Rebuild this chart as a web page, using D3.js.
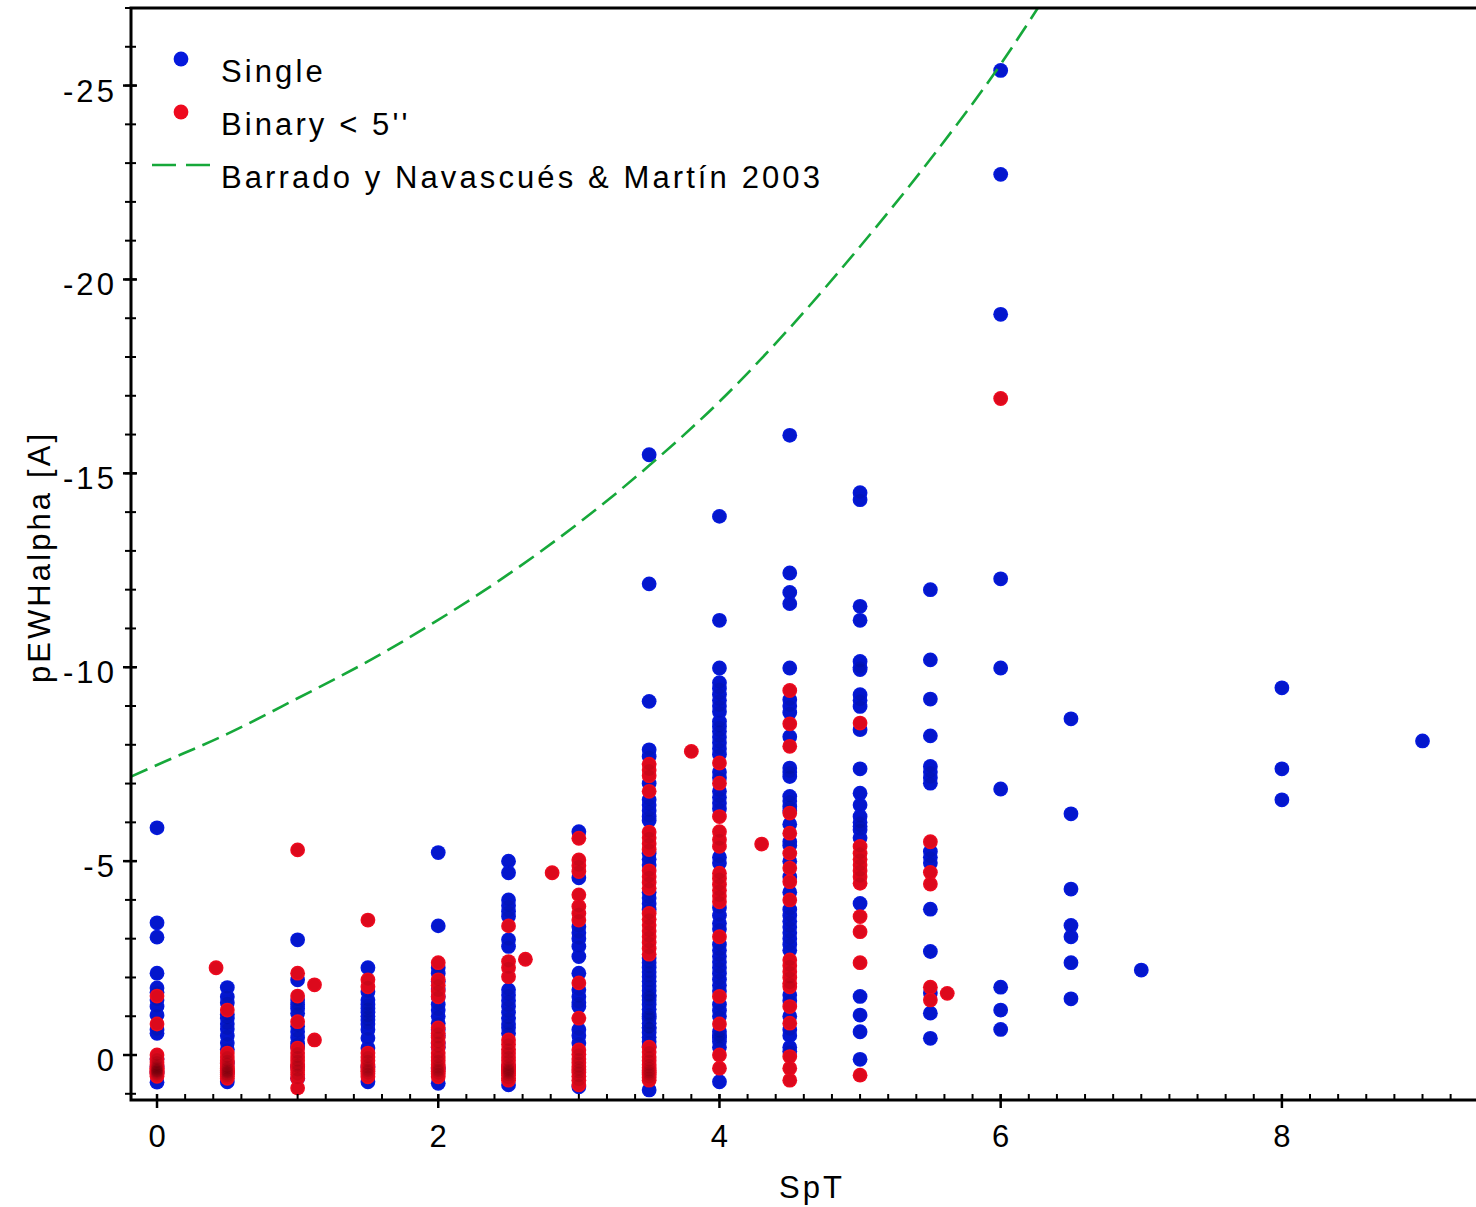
<!DOCTYPE html>
<html>
<head>
<meta charset="utf-8">
<script src="https://cdn.jsdelivr.net/npm/d3@7"></script>
<style>
  html, body { margin: 0; padding: 0; background: #fff; }
  svg text { font-family: "Liberation Sans", Arial, Helvetica, sans-serif; fill: #000; }
</style>
</head>
<body>
<svg id="chart" width="1476" height="1207"></svg>
<script>
// Hα pseudo-equivalent width versus spectral subtype (M0 = 0 ... M9 = 9)

// Single stars: [spectral type, pEW(Hα) values]
const singleStars = [
  [0,   [-5.86, -3.41, -3.04, -2.11, -1.73, -1.62, -1.42, -1.25, -1.03, -0.65, -0.56, 0.1, 0.3, 0.45, 0.7]],
  [0.5, [-1.74, -1.5, -1.35, -1.05, -0.95, -0.8, -0.67, -0.5, -0.31, -0.15, 0.2, 0.45, 0.69]],
  [1,   [-2.97, -1.94, -1.42, -1.3, -1.2, -1.08, -0.74, -0.6, -0.45, -0.3, -0.21, 0.3, 0.6]],
  [1.5, [-2.25, -1.63, -1.42, -1.3, -1.2, -1.1, -1.0, -0.9, -0.8, -0.65, -0.44, -0.18, 0.3, 0.69]],
  [2,   [-5.22, -3.33, -2.25, -2.1, -1.9, -1.7, -1.5, -1.3, -1.16, -1.0, -0.82, -0.65, -0.5, -0.3, -0.2, 0.35, 0.73]],
  [2.5, [-5.0, -4.7, -4.0, -3.85, -3.7, -3.57, -2.97, -2.8, -1.68, -1.55, -1.4, -1.25, -1.1, -0.95, -0.8, -0.7, -0.56, 0.3, 0.77]],
  [3,   [-5.76, -4.57, -3.31, -3.15, -3.0, -2.8, -2.54, -2.11, -1.68, -1.5, -1.35, -1.25, -0.65, -0.5, -0.31, 0.82]],
  [3.5, [-15.48, -12.15, -9.12, -7.87, -7.7, -7.0, -6.58, -6.45, -6.3, -6.15, -6.05, -5.2, -5.05, -4.9, -4.2, -4.05, -3.9, -3.75,
         -2.5, -2.38, -2.26, -2.14, -2.02, -1.9, -1.78, -1.66, -1.54, -1.5, -1.42, -1.3, -1.18, -1.06, -1.0, -0.94, -0.82,
         -0.7, -0.7, -0.58, -0.46, -0.34, -0.22, 0.9]],
  [4,   [-13.89, -11.21, -9.98, -9.6, -9.45, -9.3, -9.15, -9.0, -8.85, -8.6, -8.47, -8.35, -8.2, -8.05, -7.9, -7.75, -7.3, -7.15,
         -6.8, -6.65, -6.5, -6.35, -5.1, -4.95, -3.8, -3.6, -3.4, -3.25, -2.85, -2.7, -2.55, -2.4, -2.25, -2.1, -1.95, -1.8,
         -1.65, -1.3, -1.15, -1.0, -0.6, -0.5, -0.45, -0.35, -0.2, 0.69]],
  [4.5, [-15.98, -12.43, -11.93, -11.64, -9.98, -9.16, -9.0, -8.83, -8.21, -7.4, -7.3, -7.18, -6.67, -6.55, -6.41, -6.3, -5.95,
         -5.5, -5.4, -5.0, -4.6, -4.2, -3.75, -3.6, -3.45, -3.3, -3.15, -3.0, -2.85, -2.7, -1.55, -1.4, -1.0, -0.65, -0.5, -0.2, -0.1]],
  [5,   [-14.5, -14.32, -11.57, -11.21, -10.15, -10.0, -9.94, -9.29, -9.15, -8.99, -8.39, -7.38, -6.75, -6.45, -6.15, -6.0,
         -5.9, -5.81, -5.6, -3.91, -1.51, -1.03, -0.6, 0.11]],
  [5.5, [-12.0, -10.19, -9.18, -8.23, -7.44, -7.3, -7.15, -7.01, -5.25, -5.1, -4.95, -3.76, -2.67, -1.6, -1.08, -0.43]],
  [6,   [-25.39, -22.71, -19.1, -12.28, -9.98, -6.86, -1.75, -1.16, -0.66]],
  [6.5, [-8.67, -6.22, -4.28, -3.34, -3.05, -2.38, -1.45]],
  [7,   [-2.19]],
  [8,   [-9.47, -7.38, -6.58]],
  [9,   [-8.1]]
];

// Binaries with separation below 5 arcsec: [spectral type, pEW(Hα) values]
const binaryStars = [
  [0,    [-1.52, -0.8, 0.0, 0.1, 0.18, 0.25, 0.3, 0.34, 0.37, 0.4, 0.42, 0.44, 0.47, 0.5, 0.55]],
  [0.42, [-2.25]],
  [0.5,  [-1.16, -0.05, 0.05, 0.15, 0.22, 0.3, 0.35, 0.4, 0.43, 0.46, 0.5, 0.55, 0.6]],
  [1,    [-5.29, -2.11, -1.52, -0.86, -0.18, -0.05, 0.05, 0.15, 0.25, 0.3, 0.4, 0.5, 0.6, 0.85]],
  [1.12, [-1.81, -0.39]],
  [1.5,  [-3.48, -1.94, -1.76, -0.05, 0.05, 0.15, 0.25, 0.32, 0.38, 0.42, 0.48, 0.56]],
  [2,    [-2.38, -1.94, -1.8, -1.65, -1.5, -0.7, -0.56, -0.45, -0.32, -0.21, -0.05, 0.05, 0.15, 0.25, 0.32, 0.38, 0.42, 0.48, 0.56]],
  [2.5,  [-3.33, -2.41, -2.25, -2.02, -0.39, -0.28, -0.15, -0.05, 0.05, 0.15, 0.25, 0.32, 0.37, 0.4, 0.43, 0.47, 0.52, 0.6, 0.65]],
  [2.62, [-2.47]],
  [2.81, [-4.7]],
  [3,    [-5.59, -5.03, -4.88, -4.73, -4.13, -3.83, -3.65, -3.48, -1.86, -0.95, -0.13, -0.02, 0.1, 0.2, 0.3, 0.38, 0.45, 0.55, 0.65, 0.77]],
  [3.5,  [-7.5, -7.35, -7.2, -6.8, -5.75, -5.6, -5.45, -5.3, -4.75, -4.6, -4.45, -4.3, -3.65, -3.5, -3.35, -3.2, -3.05, -2.9,
          -2.75, -2.6, -0.2, -0.08, 0.05, 0.15, 0.25, 0.33, 0.4, 0.45, 0.5, 0.58, 0.65]],
  [3.8,  [-7.83]],
  [4,    [-7.53, -7.01, -6.15, -5.76, -5.55, -5.38, -4.69, -4.55, -4.4, -4.25, -4.1, -3.95, -3.05, -1.51, -0.8, 0.0, 0.34]],
  [4.3,  [-5.44]],
  [4.5,  [-9.4, -8.54, -7.96, -6.24, -5.72, -5.2, -4.82, -4.47, -4.0, -2.45, -2.3, -2.15, -2.0, -1.85, -1.76, -1.25, -0.82, 0.04, 0.34, 0.65]],
  [5,    [-8.56, -5.38, -5.2, -5.05, -4.9, -4.75, -4.6, -4.43, -3.57, -3.18, -2.38, 0.52]],
  [5.5,  [-5.5, -4.71, -4.41, -1.75, -1.42]],
  [5.62, [-1.59]],
  [6,    [-16.93]]
];

// Saturation criterion of Barrado y Navascués & Martín (2003)
const criterionSpT = [-0.185, 0, 0.5, 1, 1.5, 2, 2.5, 3, 3.5, 4, 4.5, 5, 5.5, 6, 6.3];
const criterionEW  = [-7.18, -7.48, -8.28, -9.2, -10.15, -11.22, -12.4, -13.72, -15.2, -16.85, -18.75, -20.85, -23.1, -25.55, -27.2];

// Axis ticks
const xTickValues = [0, 2, 4, 6, 8];
const xTickLabels = ["0", "2", "4", "6", "8"];
const yTickValues = [0, -5, -10, -15, -20, -25];
const yTickLabels = ["0", "-5", "-10", "-15", "-20", "-25"];

const legendLabels = ["Single", "Binary < 5''", "Barrado y Navascués & Martín 2003"];
const seriesColors = { single: "#0519dd", binary: "#ee0a1f", criterion: "#16a83a" };

(function drawChart() {
  const svg = d3.select("#chart");
  const plotLeft = 131, plotRight = 1490, plotTop = 8, plotBottom = 1100;
  const fontSize = 31, tracking = 3.1, markerR = 7.4;

  const x = d3.scaleLinear().domain([-0.185, 9.48]).range([plotLeft, plotRight]);
  const y = d3.scaleLinear().domain([1.16, -27.0]).range([plotBottom, plotTop]);

  svg.append("defs").append("clipPath").attr("id", "plotClip")
    .append("rect").attr("x", plotLeft).attr("y", plotTop)
    .attr("width", plotRight - plotLeft).attr("height", plotBottom - plotTop);

  const plot = svg.append("g").attr("clip-path", "url(#plotClip)");

  const flatten = list => list.flatMap(([spt, ews]) => ews.map(ew => ({ spt, ew })));
  const singles = flatten(singleStars);
  const binaries = flatten(binaryStars);

  // scatter: solid markers, with a faint dark wash that builds up where markers pile up
  function drawSeries(data, color) {
    const g = plot.append("g");
    g.selectAll("circle.fill").data(data).join("circle")
      .attr("class", "fill")
      .attr("cx", d => x(d.spt)).attr("cy", d => y(d.ew))
      .attr("r", markerR).attr("fill", color);
    g.selectAll("circle.shade").data(data).join("circle")
      .attr("class", "shade")
      .attr("cx", d => x(d.spt)).attr("cy", d => y(d.ew))
      .attr("r", 6).attr("fill", "#000").attr("fill-opacity", 0.075);
  }
  drawSeries(singles, seriesColors.single);
  drawSeries(binaries, seriesColors.binary);

  // criterion curve
  const criterion = criterionSpT.map((s, i) => ({ spt: s, ew: criterionEW[i] }));
  plot.append("path")
    .datum(criterion)
    .attr("fill", "none")
    .attr("stroke", seriesColors.criterion)
    .attr("stroke-width", 2.6)
    .attr("stroke-dasharray", "18,8")
    .attr("d", d3.line().x(d => x(d.spt)).y(d => y(d.ew)).curve(d3.curveMonotoneX));

  // frame
  svg.append("rect")
    .attr("x", plotLeft).attr("y", plotTop)
    .attr("width", plotRight - plotLeft).attr("height", plotBottom - plotTop)
    .attr("fill", "none").attr("stroke", "#000").attr("stroke-width", 3);

  // x axis: major ticks crossing the axis, minor ticks inside
  const xAxis = svg.append("g");
  xAxis.selectAll("line.minor").data(d3.range(0, 47).map(i => i * 0.2)).join("line")
    .attr("class", "minor")
    .attr("x1", d => x(d)).attr("x2", d => x(d))
    .attr("y1", plotBottom - 6).attr("y2", plotBottom)
    .attr("stroke", "#000").attr("stroke-width", 2);
  xAxis.selectAll("line.major").data(xTickValues).join("line")
    .attr("class", "major")
    .attr("x1", d => x(d)).attr("x2", d => x(d))
    .attr("y1", plotBottom - 6).attr("y2", plotBottom + 8)
    .attr("stroke", "#000").attr("stroke-width", 2.5);
  xAxis.selectAll("text").data(xTickValues).join("text")
    .attr("x", d => x(d)).attr("y", 1147)
    .attr("text-anchor", "middle")
    .attr("font-size", fontSize)
    .text((d, i) => xTickLabels[i]);

  // y axis
  const yAxis = svg.append("g");
  yAxis.selectAll("line.minor").data(d3.range(-27, 2)).join("line")
    .attr("class", "minor")
    .attr("x1", plotLeft - 6).attr("x2", plotLeft + 5)
    .attr("y1", d => y(d)).attr("y2", d => y(d))
    .attr("stroke", "#000").attr("stroke-width", 2);
  yAxis.selectAll("line.major").data(yTickValues).join("line")
    .attr("class", "major")
    .attr("x1", plotLeft - 8).attr("x2", plotLeft + 6)
    .attr("y1", d => y(d)).attr("y2", d => y(d))
    .attr("stroke", "#000").attr("stroke-width", 2.5);
  yAxis.selectAll("text").data(yTickValues).join("text")
    .attr("x", 117).attr("y", d => y(d) + 16)
    .attr("text-anchor", "end")
    .attr("font-size", fontSize).attr("letter-spacing", tracking)
    .text((d, i) => yTickLabels[i]);

  // axis titles
  svg.append("text")
    .attr("x", 812).attr("y", 1198)
    .attr("text-anchor", "middle")
    .attr("font-size", fontSize).attr("letter-spacing", tracking)
    .text("SpT");
  svg.append("text")
    .attr("transform", "translate(50,557) rotate(-90)")
    .attr("text-anchor", "middle")
    .attr("font-size", fontSize).attr("letter-spacing", tracking)
    .text("pEWHalpha [A]");

  // legend
  const legend = svg.append("g");
  legend.append("circle").attr("cx", 181).attr("cy", 59).attr("r", markerR).attr("fill", seriesColors.single);
  legend.append("circle").attr("cx", 181).attr("cy", 112).attr("r", markerR).attr("fill", seriesColors.binary);
  legend.append("line")
    .attr("x1", 152).attr("x2", 210).attr("y1", 165).attr("y2", 165)
    .attr("stroke", seriesColors.criterion).attr("stroke-width", 2.6)
    .attr("stroke-dasharray", "24,10");
  legend.selectAll("text").data(legendLabels).join("text")
    .attr("x", 221).attr("y", (d, i) => 82 + i * 53)
    .attr("font-size", fontSize).attr("letter-spacing", tracking)
    .text(d => d);
})();
</script>
</body>
</html>
